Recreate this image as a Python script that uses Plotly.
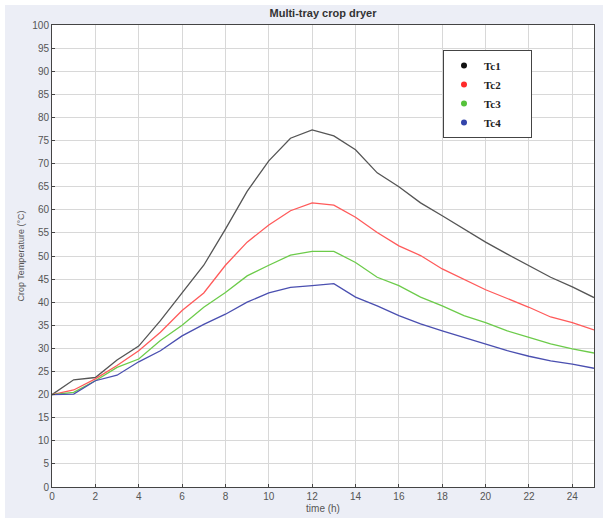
import plotly.graph_objects as go

time_h = list(range(26))
tc1 = [20, 23.2, 23.7, 27.5, 30.5, 36, 42, 48, 55.8, 64, 70.6, 75.5, 77.3, 76, 73, 68, 65, 61.5, 58.7, 55.8, 53, 50.4, 47.9, 45.4, 43.3, 41]
tc2 = [20, 21, 23.4, 26.3, 29.5, 33.5, 38.2, 42, 48, 53, 56.7, 59.8, 61.5, 61, 58.4, 55.1, 52.2, 50.1, 47.2, 45, 42.7, 40.8, 38.9, 36.8, 35.6, 34]
tc3 = [20, 20.5, 23, 25.9, 27.7, 31.7, 35, 38.9, 42.1, 45.7, 48, 50.2, 51, 51, 48.6, 45.4, 43.6, 41.1, 39.2, 37.1, 35.6, 33.8, 32.4, 31, 29.9, 29]
tc4 = [20, 20.1, 23, 24.2, 27.1, 29.5, 32.7, 35.2, 37.4, 40, 42, 43.2, 43.6, 44, 41.1, 39.2, 37.1, 35.3, 33.8, 32.4, 31, 29.5, 28.3, 27.3, 26.6, 25.7]
names = ["Tc1", "Tc2", "Tc3", "Tc4"]
colors = ["#555555", "#ff5a5a", "#6ccb4a", "#4a4fb0"]
x_ticks = list(range(0, 26, 2))
y_ticks = list(range(0, 101, 5))

W, H = 603, 522
ml, mr, mt, mb = 52, 9, 25, 35
pw, ph = W - ml - mr, H - mt - mb

fig = go.Figure()
for name, ys, c in zip(names, [tc1, tc2, tc3, tc4], colors):
    fig.add_trace(go.Scatter(x=time_h, y=ys, mode="lines", line=dict(color=c, width=1.3),
                             showlegend=False, hoverinfo="skip"))
legend_marker_colors = ["#111111", "#ff2a2a", "#55c23a", "#3344aa"]
for name, c in zip(names, legend_marker_colors):
    fig.add_trace(go.Scatter(x=[None], y=[None], mode="markers",
                             name="<b>" + name + "</b>" + "\u00a0" * 9,
                             marker=dict(color=c, size=6)))

def px_x(p):
    return (p - ml) / pw

def px_y(p):
    return (H - mb - p) / ph

shapes = [
    dict(type="rect", xref="paper", yref="paper", x0=px_x(-5), x1=px_x(5), y0=px_y(-5), y1=px_y(H + 5),
         fillcolor="white", line=dict(width=0), layer="above"),
    dict(type="rect", xref="paper", yref="paper", x0=px_x(-5), x1=px_x(W + 5), y0=px_y(5), y1=px_y(-5),
         fillcolor="white", line=dict(width=0), layer="above"),
    dict(type="rect", xref="paper", yref="paper", x0=px_x(-5), x1=px_x(W + 5), y0=px_y(H + 5), y1=px_y(H - 4),
         fillcolor="white", line=dict(width=0), layer="above"),
]

axis_common = dict(showgrid=True, gridcolor="#d8d8d8", gridwidth=1, zeroline=False,
                   showline=True, linecolor="#444444", linewidth=1, mirror=True,
                   ticks="inside", ticklen=3, tickcolor="#444444",
                   tickfont=dict(family="Liberation Sans, Arial", size=10, color="#555555"))

fig.update_layout(
    width=W, height=H,
    margin=dict(l=ml, r=mr, t=mt, b=mb),
    paper_bgcolor="#eceef6", plot_bgcolor="white",
    title=dict(text="<b>Multi-tray crop dryer</b>", x=(ml + pw / 2) / W, xanchor="center",
               y=1 - 13 / H, yanchor="middle",
               font=dict(family="Liberation Sans, Arial", size=11, color="#333333")),
    xaxis=dict(range=[0, 25], tickvals=x_ticks,
               title=dict(text="time (h)", standoff=3,
                          font=dict(family="Liberation Sans, Arial", size=10, color="#555555")),
               **axis_common),
    yaxis=dict(range=[0, 100], tickvals=y_ticks,
               title=dict(text="Crop Temperature (°C)", standoff=6,
                          font=dict(family="Liberation Sans, Arial", size=9, color="#555555")),
               **axis_common),
    legend=dict(x=px_x(443), y=px_y(50), xanchor="left", yanchor="top",
                bgcolor="white", bordercolor="#444444", borderwidth=1,
                font=dict(family="Liberation Serif, Times New Roman", size=11, color="#222222"),
                itemwidth=30, tracegroupgap=0),
    shapes=shapes,
)

fig.write_html("out.html")
